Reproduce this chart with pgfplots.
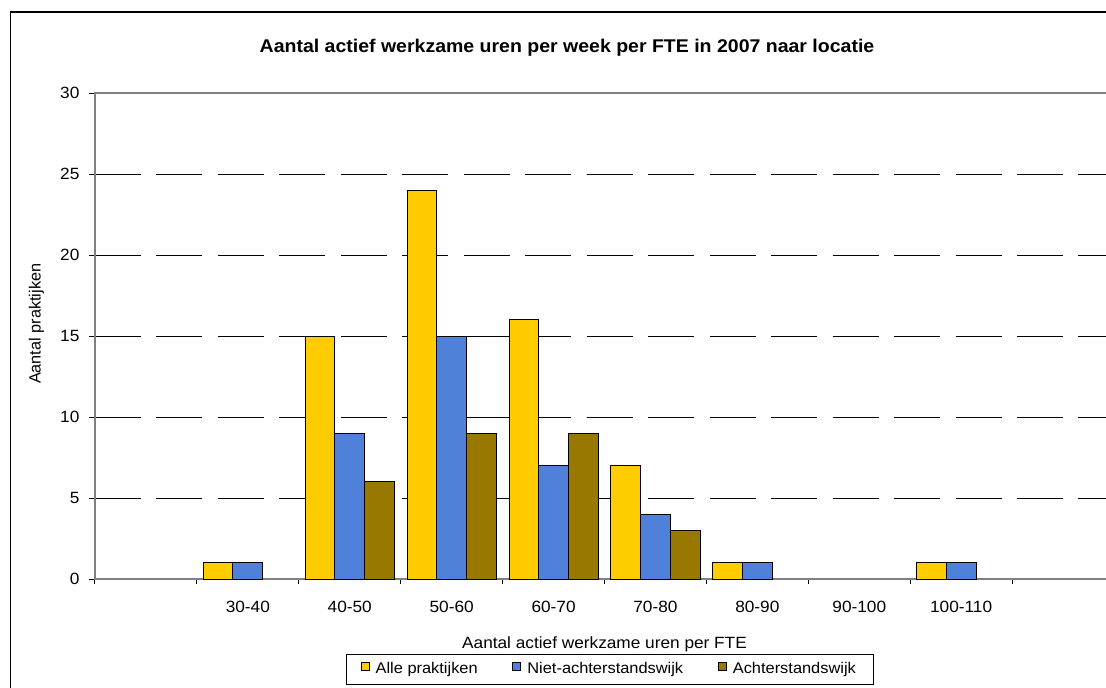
\documentclass[border=0pt]{standalone}
\usepackage{pgfplots}
\pgfplotsset{compat=1.18}
\usepackage{fontspec}
\setmainfont{Liberation Sans}[FakeStretch=1.06]
\newfontfamily\ylabfont{Liberation Sans}
\definecolor{cyel}{HTML}{FFCC00}
\definecolor{cblu}{HTML}{4F80DA}
\definecolor{colv}{HTML}{997800}
\definecolor{axgray}{HTML}{808080}
\pgfplotsset{sqlegend/.style={legend image code/.code={\draw[##1, line width=0.75pt] (0pt,-0.5pt) rectangle (6pt,5.5pt);}}}
\begin{document}
\begin{tikzpicture}
\draw[black, line width=1pt] (-63.5pt,425.25pt) rectangle (820pt,-120pt);
\begin{axis}[
  scale only axis, width=764.25pt, height=364.5pt,
  xmin=-0.5, xmax=9.5, ymin=0, ymax=30,
  ybar=0pt, bar width=0.2915,
  xtick={0,...,9},
  xticklabels={,30-40,40-50,50-60,60-70,70-80,80-90,90-100,100-110,},
  minor xtick={-0.5,0.5,...,9.5},
  ytick={0,5,...,30},
  tick align=outside, xtick pos=bottom, ytick pos=left,
  major tick length=4.5pt, minor tick length=3.75pt,
  major x tick style={draw=none},
  tick style={black, line width=0.75pt},
  axis line style={axgray, line width=1.1pt},
  ymajorgrids,
  major grid style={black, line width=0.75pt, dash pattern=on 34.5pt off 11.6pt},
  ticklabel style={font=\fontsize{12.2}{14}\selectfont},
  /pgf/number format/assume math mode=true,
  yticklabel style={anchor=east, inner sep=0pt, xshift=-7pt},
  xticklabel style={anchor=base, inner sep=0pt, yshift=-20.5pt},
  title={Aantal actief werkzame uren per week per FTE in 2007 naar locatie},
  title style={font=\bfseries\fontsize{13.8}{16}\selectfont, at={(axis description cs:0.4632,1.067)}, anchor=base, inner sep=0pt},
  xlabel={Aantal actief werkzame uren per FTE},
  xlabel style={font=\fontsize{12.2}{14}\selectfont, at={(axis description cs:0.5,-0.143)}, anchor=base, inner sep=0pt},
  ylabel={Aantal praktijken},
  ylabel style={font=\ylabfont\fontsize{12.2}{14}\selectfont, at={(axis description cs:-0.0575,0.525)}, anchor=center},
  legend columns=3,
  legend style={at={(axis description cs:0.505,-0.1535)}, anchor=north, draw=black, line width=0.75pt,
    font=\fontsize{11.6}{13}\selectfont, inner xsep=11pt, inner ysep=4.5pt,
    /tikz/every odd column/.append style={column sep=2.5pt},
    /tikz/every even column/.append style={column sep=24pt}},
]
\addplot[fill=cyel, draw=black, line width=0.75pt, sqlegend] coordinates {(1,1) (2,15) (3,24) (4,16) (5,7) (6,1) (8,1)};
\addplot[fill=cblu, draw=black, line width=0.75pt, sqlegend] coordinates {(1,1) (2,9) (3,15) (4,7) (5,4) (6,1) (8,1)};
\addplot[fill=colv, draw=black, line width=0.75pt, sqlegend] coordinates {(2,6) (3,9) (4,9) (5,3)};
\legend{Alle praktijken, Niet-achterstandswijk, Achterstandswijk}
\end{axis}
\pgfresetboundingbox
\path[use as bounding box] (-71.25pt,-81pt) rectangle (758.25pt,434.25pt);
\end{tikzpicture}
\end{document}
